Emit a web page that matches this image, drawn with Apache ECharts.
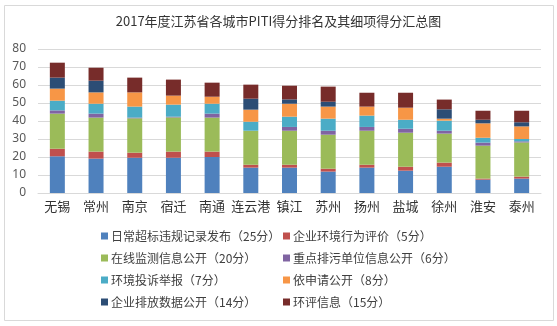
<!DOCTYPE html>
<html><head><meta charset="utf-8">
<script src="https://cdn.jsdelivr.net/npm/echarts@6/dist/echarts.min.js"></script>
<style>html,body{margin:0;padding:0;background:#fff}#c{width:557px;height:326px}</style>
</head><body><div id="c"></div>
<script>
const cities = ['无锡','常州','南京','宿迁','南通','连云港','镇江','苏州','扬州','盐城','徐州','淮安','泰州'];
const seriesNames = ['日常超标违规记录发布（25分）','企业环境行为评价（5分）','在线监测信息公开（20分）','重点排污单位信息公开（6分）','环境投诉举报（7分）','依申请公开（8分）','企业排放数据公开（14分）','环评信息（15分）'];
const daily   = [20.4,19.1,19.6,19.6,20.0,14.1,14.1,11.9,14.1,12.4,14.6,7.4,8.0];
const evalv   = [4.2,3.9,2.8,3.4,3.0,1.6,1.6,1.6,1.6,2.2,2.3,0.6,1.1];
const online  = [19.5,18.9,19.1,19.0,18.9,18.9,18.9,18.9,18.9,18.9,16.1,18.3,19.0];
const keyunit = [1.8,2.2,0.4,0.4,2.2,0,2.1,2.2,2.1,2.2,1.6,1.7,0.6];
const complain= [5.4,5.5,6.1,6.7,5.5,5.0,5.7,6.7,6.3,5.0,5.6,2.7,1.3];
const apply   = [6.7,6.3,7.9,5.0,3.9,6.7,7.2,6.7,5.0,6.7,1.1,8.0,7.0];
const emission= [6.1,6.5,0,0,0,6.1,2.4,2.7,0,0,5.2,2.0,2.3];
const eia     = [8.3,7.2,8.2,8.9,7.8,7.8,7.6,8.4,7.7,8.3,5.4,5.0,6.4];
const yTicks  = [0,10,20,30,40,50,60,70,80];
const colors = ['#4F81BD','#C0504D','#9BBB59','#8064A2','#4BACC6','#F79646','#2C4D75','#772C2A'];
const values = [daily,evalv,online,keyunit,complain,apply,emission,eia];

const chart = echarts.init(document.getElementById('c'));
const legendBase = {
  orient:'vertical', icon:'rect', itemWidth:7, itemHeight:7, itemGap:8, padding:0,
  textStyle:{fontSize:12, color:'#404040', fontFamily:'Noto Sans CJK SC', lineHeight:14, padding:[0,0,0,-2]}
};
chart.setOption({
  animation:false,
  color: colors,
  title:{text:'2017年度江苏省各城市PITI得分排名及其细项得分汇总图', left:'center', top:10,
    textStyle:{fontSize:13, fontWeight:'normal', color:'#333', fontFamily:'Noto Sans CJK SC'}},
  graphic:[{type:'rect', shape:{x:4.5,y:5.5,width:549,height:315}, style:{fill:'none', stroke:'#D9D9D9', lineWidth:1}, silent:true}],
  legend:[
    Object.assign({left:101, top:229, data:[seriesNames[0],seriesNames[2],seriesNames[4],seriesNames[6]]}, legendBase),
    Object.assign({left:283, top:229, data:[seriesNames[1],seriesNames[3],seriesNames[5],seriesNames[7]]}, legendBase)
  ],
  grid:{left:38, right:16, top:49, bottom:133, containLabel:false},
  xAxis:{type:'category', data:cities,
    axisLine:{lineStyle:{color:'#D9D9D9'}}, axisTick:{show:false},
    axisLabel:{fontSize:13, color:'#333', fontFamily:'Noto Sans CJK SC', margin:7, interval:0}},
  yAxis:{type:'value', min:yTicks[0], max:yTicks[yTicks.length-1], interval:10,
    axisLine:{show:false}, axisTick:{show:false},
    splitLine:{lineStyle:{color:'#D9D9D9'}},
    axisLabel:{fontSize:12, color:'#595959', fontFamily:'Noto Sans', margin:12}},
  series: seriesNames.map((n,i)=>({name:n, type:'bar', stack:'s', data:values[i], barWidth:15}))
});
</script></body></html>
